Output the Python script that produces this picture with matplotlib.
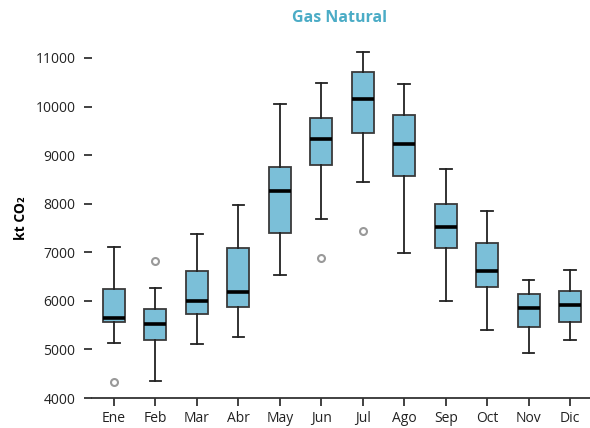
import matplotlib
matplotlib.use("Agg")
import matplotlib.pyplot as plt

months = ["Ene", "Feb", "Mar", "Abr", "May", "Jun", "Jul", "Ago", "Sep", "Oct", "Nov", "Dic"]
whisker_low = [5140, 4360, 5105, 5255, 6530, 7680, 8440, 6990, 6000, 5400, 4920, 5190]
q1 = [5570, 5190, 5740, 5875, 7400, 8800, 9460, 8560, 7080, 6280, 5460, 5570]
median = [5650, 5530, 6000, 6190, 8260, 9340, 10150, 9220, 7530, 6615, 5860, 5915]
q3 = [6250, 5830, 6615, 7080, 8760, 9760, 10720, 9830, 8000, 7185, 6140, 6205]
whisker_high = [7100, 6260, 7375, 7980, 10050, 10480, 11130, 10460, 8710, 7860, 6430, 6635]
outliers = [[4320], [6830], [], [], [], [6890], [7440], [], [], [], [], []]

plt.rcParams["font.family"] = ["Open Sans", "DejaVu Sans"]

stats = []
for i in range(len(months)):
	stats.append({
		"whislo": whisker_low[i], "q1": q1[i], "med": median[i],
		"q3": q3[i], "whishi": whisker_high[i], "fliers": outliers[i],
	})

fig = plt.figure(figsize=(5.9, 4.28), dpi=100)
ax = fig.add_axes([0.156, 0.070, 0.844, 0.84])

ax.bxp(stats, positions=range(1, 13), widths=0.53, capwidths=0.28, patch_artist=True,
	boxprops=dict(facecolor="#7bbfd8", edgecolor="#3a3a3a", linewidth=1.3),
	medianprops=dict(color="black", linewidth=2.6),
	whiskerprops=dict(color="#222222", linewidth=1.3),
	capprops=dict(color="#222222", linewidth=1.3),
	flierprops=dict(marker="o", markerfacecolor="none", markeredgecolor="#999999",
		markersize=5, markeredgewidth=1.5))

ax.set_xlim(0.47, 12.48)
ax.set_ylim(4000, 11400)
ax.set_yticks(range(4000, 12000, 1000))
ax.set_xticks(range(1, 13))
ax.set_xticklabels(months)
ax.tick_params(axis="both", labelsize=10, length=6, width=1.3, color="#333333", labelcolor="#222222")
ax.tick_params(axis="y", pad=6)
for side in ["top", "right", "left"]:
	ax.spines[side].set_visible(False)
ax.spines["bottom"].set_linewidth(1.3)
ax.spines["bottom"].set_color("#333333")

ax.set_ylabel("kt CO₂", fontsize=10, fontweight="bold", labelpad=5)
fig.text(0.576, 0.958, "Gas Natural", ha="center", va="center", color="#4bacc6",
	fontsize=11.5, fontweight="bold")

fig.savefig("out.png", dpi=100)
